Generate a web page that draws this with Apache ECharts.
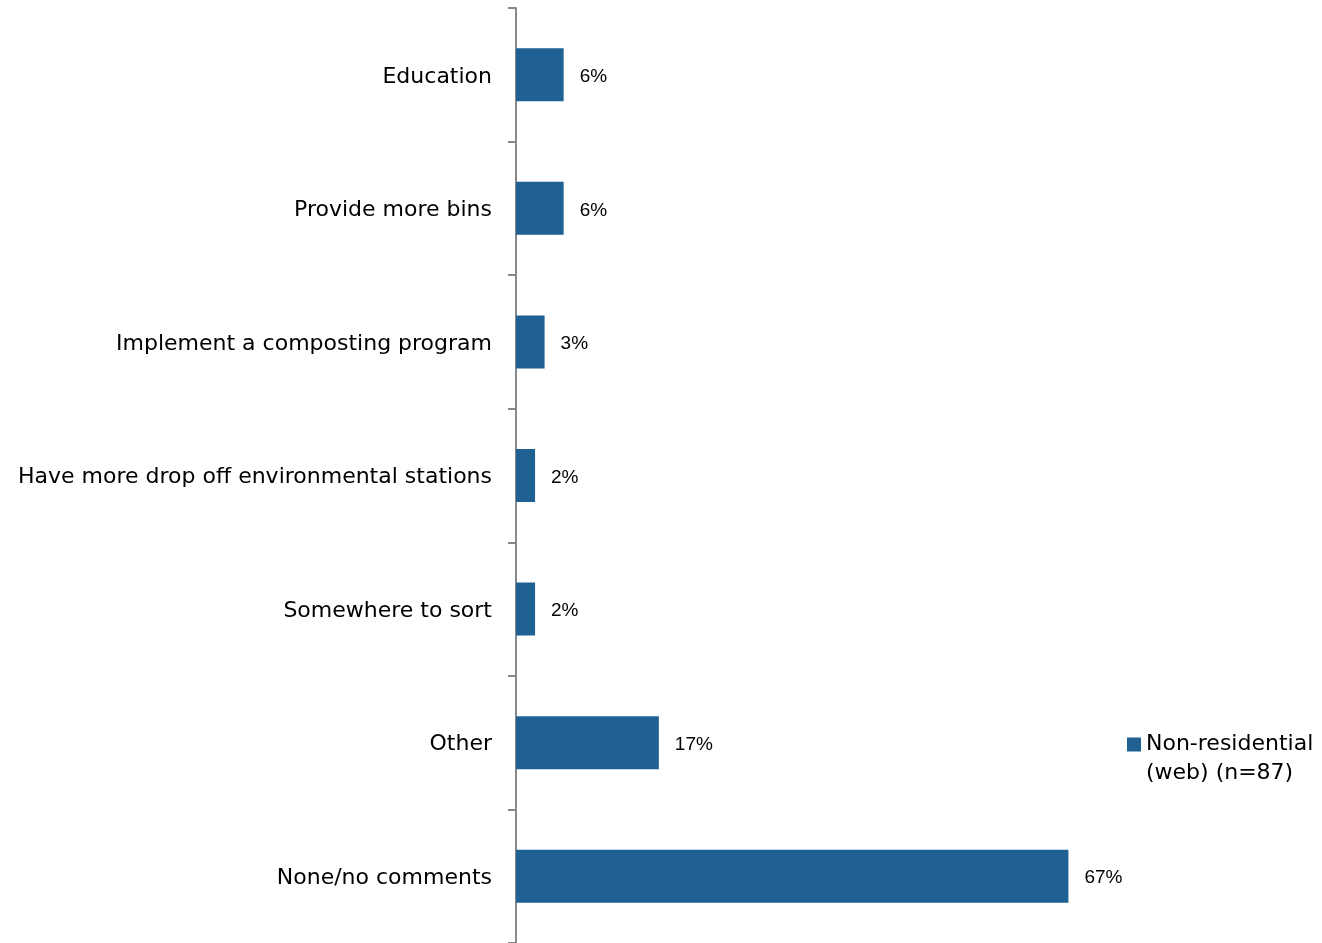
<!DOCTYPE html>
<html>
<head>
<meta charset="utf-8">
<script src="https://cdn.jsdelivr.net/npm/echarts@6/dist/echarts.min.js"></script>
<style>
html,body{margin:0;padding:0;background:#fff;}
#chart{width:1322px;height:943px;}
</style>
</head>
<body>
<div id="chart"></div>
<script>
const categories = [
  "Education",
  "Provide more bins",
  "Implement a composting program",
  "Have more drop off environmental stations",
  "Somewhere to sort",
  "Other",
  "None/no comments"
];
const values = [5.75, 5.75, 3.45, 2.30, 2.30, 17.24, 66.67];
const seriesName = "Non-residential (web) (n=87)";
const legendLines = ["Non-residential", "(web) (n=87)"];

const chart = echarts.init(document.getElementById('chart'), null, {renderer: 'canvas'});
const font = "'DejaVu Sans', sans-serif";
const labelFont = "'Liberation Sans', Arial, sans-serif";
chart.setOption({
  animation: false,
  backgroundColor: '#ffffff',
  legend: {
    show: true,
    orient: 'vertical',
    left: 1122,
    top: 696,
    itemWidth: 14,
    itemHeight: 14,
    itemGap: 0,
    icon: 'rect',
    data: [seriesName],
    formatter: () => ' \n' + legendLines.join('\n'),
    textStyle: {fontFamily: font, fontSize: 22, color: '#000', lineHeight: 29}
  },
  grid: {left: 516, top: 8, width: 580, height: 937, containLabel: false},
  xAxis: {
    type: 'value', min: 0, max: 70,
    show: false
  },
  yAxis: {
    type: 'category',
    inverse: true,
    data: categories,
    axisLine: {show: true, lineStyle: {color: '#888888', width: 2}},
    axisTick: {show: true, length: 8, lineStyle: {color: '#888888', width: 2}},
    axisLabel: {
      margin: 24,
      formatter: v => '{a|' + v + '}',
      rich: {a: {fontFamily: font, fontSize: 22, color: '#000', padding: [4, 0, 0, 0]}}
    }
  },
  series: [{
    name: seriesName,
    type: 'bar',
    data: values,
    barWidth: 53,
    itemStyle: {color: '#1F6193'},
    label: {
      show: true, position: 'right', distance: 16,
      formatter: p => '{a|' + Math.round(p.value) + '%}',
      rich: {a: {fontFamily: labelFont, fontSize: 19, color: '#000', padding: [4, 0, 0, 0]}}
    }
  }]
});
</script>
</body>
</html>
